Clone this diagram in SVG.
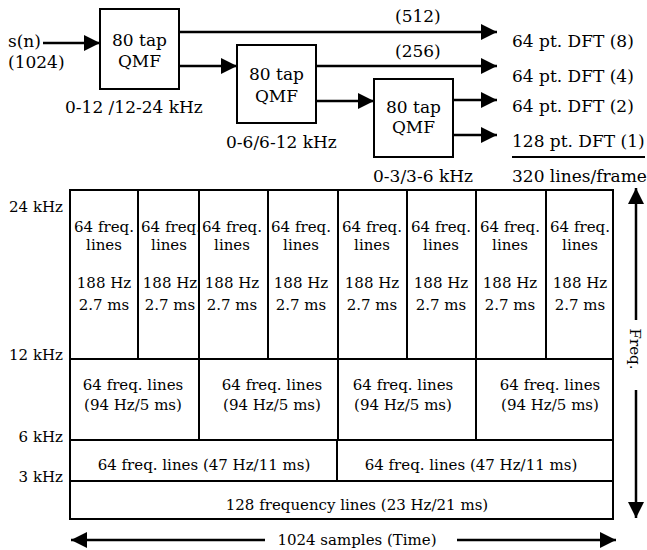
<svg xmlns="http://www.w3.org/2000/svg" width="647" height="550" viewBox="0 0 647 550">
<style>
text{font-family:"DejaVu Serif","Liberation Serif",serif;fill:#000}
.t17{font-size:17px}
.t15{font-size:15px}
.m{text-anchor:middle}
.e{text-anchor:end}
.box{fill:#fff;stroke:#000;stroke-width:2}
.ln{stroke:#000;stroke-width:2;fill:none}
.ar{stroke:#000;stroke-width:2.5;fill:none;marker-end:url(#ah)}
</style>
<defs>
<marker id="ah" markerUnits="userSpaceOnUse" markerWidth="16" markerHeight="16" refX="16" refY="8" orient="auto">
<path d="M0,0 L16,8 L0,16 z" fill="#000"/>
</marker>
</defs>
<rect width="647" height="550" fill="#fff"/>

<g id="input">
<text class="t17" x="8" y="47">s(n)</text>
<text class="t17" x="8" y="68">(1024)</text>
</g>

<g id="qmf1">
<rect class="box" x="100" y="9" width="79" height="80"/>
<text class="t17 m" x="139.5" y="46">80 tap</text>
<text class="t17 m" x="139.5" y="67">QMF</text>
<text class="t17" x="65" y="113">0-12 /12-24 kHz</text>
</g>
<g id="qmf2">
<rect class="box" x="237" y="45" width="79" height="78"/>
<text class="t17 m" x="276.5" y="80">80 tap</text>
<text class="t17 m" x="276.5" y="102">QMF</text>
<text class="t17" x="226" y="148">0-6/6-12 kHz</text>
</g>
<g id="qmf3">
<rect class="box" x="374" y="79" width="79" height="78"/>
<text class="t17 m" x="413.5" y="113">80 tap</text>
<text class="t17 m" x="413.5" y="133">QMF</text>
<text class="t17" x="373" y="182">0-3/3-6 kHz</text>
</g>

<g id="dft8"><text class="t17" x="512" y="47">64 pt. DFT (8)</text></g>
<g id="dft4"><text class="t17" x="512" y="82">64 pt. DFT (4)</text></g>
<g id="dft2"><text class="t17" x="512" y="112">64 pt. DFT (2)</text></g>
<g id="dft1"><text class="t17" x="512" y="147">128 pt. DFT (1)</text>
<line class="ln" x1="512" y1="157" x2="645" y2="157" stroke-width="1.5"/></g>
<g id="total"><text class="t17" x="512" y="182">320 lines/frame</text></g>

<g id="connectors">
<line class="ar" x1="43" y1="43" x2="100" y2="43"/>
<line class="ar" x1="179" y1="32" x2="497" y2="32"/>
<text class="t17" x="395" y="22">(512)</text>
<line class="ar" x1="179" y1="66" x2="237" y2="66"/>
<line class="ar" x1="316" y1="66" x2="497" y2="66"/>
<text class="t17" x="395" y="57">(256)</text>
<line class="ar" x1="316" y1="101" x2="374" y2="101"/>
<line class="ar" x1="453" y1="100" x2="497" y2="100"/>
<line class="ar" x1="453" y1="135" x2="497" y2="135"/>
<line class="ar" x1="265" y1="540" x2="71" y2="540"/>
<line class="ar" x1="457" y1="540" x2="616" y2="540"/>
<line class="ar" x1="636" y1="320" x2="636" y2="188"/>
<line class="ar" x1="636" y1="390" x2="636" y2="518"/>
</g>

<g id="axis-labels">
<text class="t15 e" x="63" y="212">24 kHz</text>
<text class="t15 e" x="63" y="360">12 kHz</text>
<text class="t15 e" x="63" y="442">6 kHz</text>
<text class="t15 e" x="63" y="482">3 kHz</text>
<text class="t15 m" x="357" y="545">1024 samples (Time)</text>
<text class="t15 m" transform="translate(630,349) rotate(90)">Freq.</text>
</g>

<g id="table">
<rect class="ln" x="70" y="190" width="543" height="329"/>
<line class="ln" x1="70" y1="359" x2="613" y2="359"/>
<line class="ln" x1="70" y1="440" x2="613" y2="440"/>
<line class="ln" x1="70" y1="481" x2="613" y2="481"/>
<line class="ln" x1="138" y1="190" x2="138" y2="359"/>
<line class="ln" x1="199" y1="190" x2="199" y2="440"/>
<line class="ln" x1="268" y1="190" x2="268" y2="359"/>
<line class="ln" x1="338" y1="190" x2="338" y2="440"/>
<line class="ln" x1="407" y1="190" x2="407" y2="359"/>
<line class="ln" x1="476" y1="190" x2="476" y2="440"/>
<line class="ln" x1="546" y1="190" x2="546" y2="359"/>
<line class="ln" x1="337" y1="440" x2="337" y2="481"/>
</g>

<g id="cell-a1" class="t15 m"><text class="t15 m" x="104" y="232">64 freq.</text><text class="t15 m" x="104" y="250">lines</text><text class="t15 m" x="104" y="288">188 Hz</text><text class="t15 m" x="104" y="310">2.7 ms</text></g>
<g id="cell-a2"><text class="t15 m" x="171" y="232">64 freq.</text><text class="t15 m" x="169" y="250">lines</text><text class="t15 m" x="170" y="288">188 Hz</text><text class="t15 m" x="170" y="310">2.7 ms</text></g>
<g id="cell-a3"><text class="t15 m" x="232" y="232">64 freq.</text><text class="t15 m" x="232" y="250">lines</text><text class="t15 m" x="232" y="288">188 Hz</text><text class="t15 m" x="232" y="310">2.7 ms</text></g>
<g id="cell-a4"><text class="t15 m" x="301" y="232">64 freq.</text><text class="t15 m" x="301" y="250">lines</text><text class="t15 m" x="301" y="288">188 Hz</text><text class="t15 m" x="301" y="310">2.7 ms</text></g>
<g id="cell-a5"><text class="t15 m" x="372" y="232">64 freq.</text><text class="t15 m" x="372" y="250">lines</text><text class="t15 m" x="372" y="288">188 Hz</text><text class="t15 m" x="372" y="310">2.7 ms</text></g>
<g id="cell-a6"><text class="t15 m" x="441" y="232">64 freq.</text><text class="t15 m" x="441" y="250">lines</text><text class="t15 m" x="441" y="288">188 Hz</text><text class="t15 m" x="441" y="310">2.7 ms</text></g>
<g id="cell-a7"><text class="t15 m" x="510" y="232">64 freq.</text><text class="t15 m" x="510" y="250">lines</text><text class="t15 m" x="510" y="288">188 Hz</text><text class="t15 m" x="510" y="310">2.7 ms</text></g>
<g id="cell-a8"><text class="t15 m" x="580" y="232">64 freq.</text><text class="t15 m" x="580" y="250">lines</text><text class="t15 m" x="580" y="288">188 Hz</text><text class="t15 m" x="580" y="310">2.7 ms</text></g>

<g id="cell-b1"><text class="t15 m" x="133" y="390">64 freq. lines</text><text class="t15 m" x="133" y="410">(94 Hz/5 ms)</text></g>
<g id="cell-b2"><text class="t15 m" x="272" y="390">64 freq. lines</text><text class="t15 m" x="272" y="410">(94 Hz/5 ms)</text></g>
<g id="cell-b3"><text class="t15 m" x="403" y="390">64 freq. lines</text><text class="t15 m" x="403" y="410">(94 Hz/5 ms)</text></g>
<g id="cell-b4"><text class="t15 m" x="550" y="390">64 freq. lines</text><text class="t15 m" x="550" y="410">(94 Hz/5 ms)</text></g>

<g id="cell-c1"><text class="t15 m" x="204" y="470">64 freq. lines (47 Hz/11 ms)</text></g>
<g id="cell-c2"><text class="t15 m" x="471" y="470">64 freq. lines (47 Hz/11 ms)</text></g>

<g id="cell-d1"><text class="t15 m" x="357" y="510">128 frequency lines (23 Hz/21 ms)</text></g>
</svg>
